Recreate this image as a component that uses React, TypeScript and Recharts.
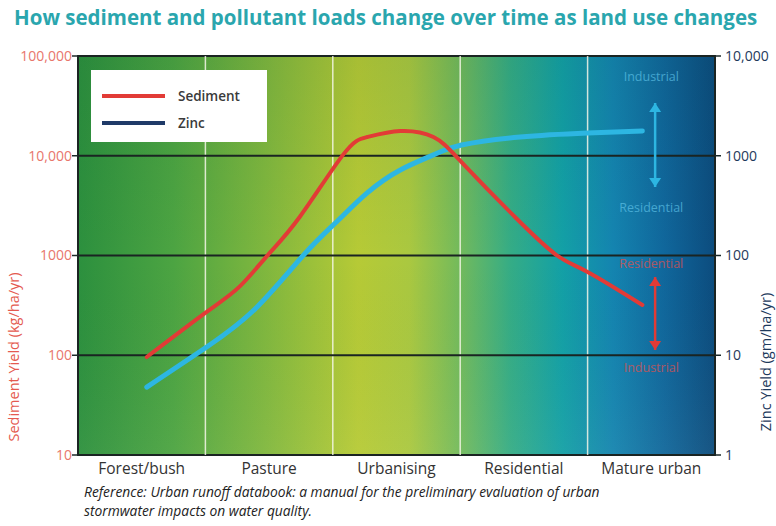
import { LineChart, Line, XAxis, YAxis, ReferenceArea, ReferenceLine, ReferenceDot, Legend } from 'recharts'

const categories = ['Forest/bush', 'Pasture', 'Urbanising', 'Residential', 'Mature urban']
const categoryTicks = [0.5, 1.5, 2.5, 3.5, 4.5]
const bandEdges = [1, 2, 3, 4]

// x is position along the land-use axis (0..5 = five bands)
const sedimentX = [0.54, 1.01, 1.27, 1.49, 1.74, 2.08, 2.27, 2.53, 2.79, 3.01, 3.43, 3.76, 4.0, 4.43]
const sedimentY = [96, 272, 490, 1010, 2430, 10200, 15400, 17700, 15400, 8650, 2430, 1000, 684, 319]

const zincX = [0.54, 1.01, 1.4, 1.77, 2.02, 2.27, 2.53, 2.79, 3.01, 3.47, 4.0, 4.43]
const zincY = [4.8, 12.1, 30, 101, 212, 424, 720, 1020, 1280, 1540, 1690, 1770]

const sedimentTicks = [10, 100, 1000, 10000, 100000]
const sedimentTickLabels = ['10', '100', '1000', '10,000', '100,000']
const zincTicks = [1, 10, 100, 1000, 10000]
const zincTickLabels = ['1', '10', '100', '1000', '10,000']
const gridLevels = [100, 1000, 10000]

const legendNames = ['Sediment', 'Zinc']
const legendColors = ['#e23b36', '#1f3a68']

// range annotations in the mature urban band
const rangeX = 4.53
const zincRange = [3380, 486]
const zincRangeLabels = [{ text: 'Industrial', y: 6300 }, { text: 'Residential', y: 306 }]
const sedimentRange = [608, 113]
const sedimentRangeLabels = [{ text: 'Residential', y: 841 }, { text: 'Industrial', y: 76 }]

const RED = '#e23b36'
const CYAN = '#2db6e2'
const FONT = '"Open Sans", sans-serif'

const sedimentData = sedimentX.map((x, i) => ({ x, sediment: sedimentY[i] }))
const zincData = zincX.map((x, i) => ({ x, zinc: zincY[i] }))

const arrowHead = (color: string, up: boolean) => (p: any) => {
  const { cx, cy } = p
  const d = up
    ? `M${cx},${cy} L${cx - 6},${cy + 9} L${cx + 6},${cy + 9} Z`
    : `M${cx},${cy} L${cx - 6},${cy - 9} L${cx + 6},${cy - 9} Z`
  return <path d={d} fill={color} />
}

const annotText = (text: string, color: string) => (p: any) => (
  <text x={p.cx} y={p.cy} textAnchor="middle" dominantBaseline="central"
    fill={color} fontSize={12.5} fontFamily={FONT} opacity={0.7}>{text}</text>
)

const sideTitle = (text: string, x: number, y: number, color: string) => ({
  content: () => (
    <text x={x} y={y} transform={`rotate(-90, ${x}, ${y})`} textAnchor="middle"
      dominantBaseline="central" fill={color} fontSize={14.5} fontFamily={FONT}>{text}</text>
  ),
})

function LegendBox() {
  return (
    <div style={{ background: '#fff', width: 176, height: 72, boxSizing: 'border-box', padding: '12px 0 0 11px', fontFamily: FONT }}>
      {legendNames.map((n, i) => (
        <div key={n} style={{ display: 'flex', alignItems: 'center', height: 27 }}>
          <span style={{ display: 'inline-block', width: 63, height: 4, background: legendColors[i] }} />
          <span style={{ marginLeft: 13, fontSize: 13.5, fontWeight: 600, color: '#3a3a3a' }}>{n}</span>
        </div>
      ))}
    </div>
  )
}

export default function App() {
  return (
    <div style={{ position: 'absolute', left: 0, top: 0, width: 776, height: 526, background: '#fff' }}>
      <div style={{ position: 'absolute', left: 14, top: 3, fontFamily: FONT, fontSize: 20.5, fontWeight: 700, color: '#2aa6ae', whiteSpace: 'nowrap' }}>
        How sediment and pollutant loads change over time as land use changes
      </div>
      <LineChart width={776} height={526} data={sedimentData}
        margin={{ top: 56, right: 11, bottom: 41, left: 18 }}>
        <defs>
          <linearGradient id="bgGrad" x1="0" y1="0" x2="1" y2="0">
            <stop offset="0" stopColor="#2c903e" />
            <stop offset="0.15" stopColor="#4ca442" />
            <stop offset="0.3" stopColor="#82b83e" />
            <stop offset="0.44" stopColor="#b6ca36" />
            <stop offset="0.52" stopColor="#aac840" />
            <stop offset="0.6" stopColor="#72ba5c" />
            <stop offset="0.68" stopColor="#34ac86" />
            <stop offset="0.76" stopColor="#13a0a6" />
            <stop offset="0.84" stopColor="#1484b0" />
            <stop offset="0.92" stopColor="#10679c" />
            <stop offset="1" stopColor="#0c4c7e" />
          </linearGradient>
          <linearGradient id="shadeGrad" x1="0" y1="0" x2="0" y2="1">
            <stop offset="0" stopColor="#003020" stopOpacity={0.08} />
            <stop offset="0.5" stopColor="#003020" stopOpacity={0} />
            <stop offset="1" stopColor="#ffffe0" stopOpacity={0.05} />
          </linearGradient>
        </defs>
        <XAxis type="number" dataKey="x" domain={[0, 5]} ticks={categoryTicks}
          tickFormatter={(v: number) => categories[Math.floor(v)]} axisLine={false} tickLine={false}
          height={30} tick={{ fill: '#333', fontSize: 15.5, fontFamily: FONT }} allowDataOverflow />
        <YAxis yAxisId="left" scale="log" domain={[10, 100000]} ticks={sedimentTicks} allowDataOverflow
          tickFormatter={(v: number) => sedimentTickLabels[sedimentTicks.indexOf(v)]}
          width={60} axisLine={false} tickLine={{ stroke: '#1d2a2a', strokeWidth: 1.5 }} tickSize={6} tickMargin={0}
          tick={{ fill: '#e8766c', fontSize: 14, fontFamily: FONT }}
          label={sideTitle('Sediment Yield (kg/ha/yr)', 13, 357, '#e45a50')} />
        <YAxis yAxisId="right" orientation="right" scale="log" domain={[1, 10000]} ticks={zincTicks} allowDataOverflow
          tickFormatter={(v: number) => zincTickLabels[zincTicks.indexOf(v)]}
          width={50} axisLine={false} tickLine={{ stroke: '#1d2a2a', strokeWidth: 1.5 }} tickSize={6} tickMargin={4}
          tick={{ fill: '#1e3a5c', fontSize: 14, fontFamily: FONT }}
          label={sideTitle('Zinc Yield (gm/ha/yr)', 765, 362, '#1e3a5c')} />

        <ReferenceArea yAxisId="left" x1={0} x2={5} y1={10} y2={100000} fill="url(#bgGrad)" fillOpacity={1} stroke="none" />
        <ReferenceArea yAxisId="left" x1={0} x2={5} y1={10} y2={100000} fill="url(#shadeGrad)" fillOpacity={1} stroke="none" />
        {bandEdges.map((x) => (
          <ReferenceLine key={'b' + x} yAxisId="left" x={x} stroke="#f4f6e8" strokeWidth={1.5} strokeOpacity={0.85} />
        ))}
        {gridLevels.map((y) => (
          <ReferenceLine key={'g' + y} yAxisId="left" y={y} stroke="#1a2422" strokeWidth={2} />
        ))}
        <ReferenceArea yAxisId="left" x1={0} x2={5} y1={10} y2={100000} fill="none" stroke="#1a2422" strokeWidth={2} />

        <ReferenceLine yAxisId="right" segment={[{ x: rangeX, y: zincRange[0] }, { x: rangeX, y: zincRange[1] }]} stroke={CYAN} strokeWidth={2.5} />
        <ReferenceDot yAxisId="right" x={rangeX} y={zincRange[0]} r={0} shape={arrowHead(CYAN, true)} />
        <ReferenceDot yAxisId="right" x={rangeX} y={zincRange[1]} r={0} shape={arrowHead(CYAN, false)} />
        {zincRangeLabels.map((l) => (
          <ReferenceDot key={'z' + l.text} yAxisId="right" x={4.5} y={l.y} r={0} shape={annotText(l.text, '#5cc0e6')} />
        ))}
        <ReferenceLine yAxisId="left" segment={[{ x: rangeX, y: sedimentRange[0] }, { x: rangeX, y: sedimentRange[1] }]} stroke={RED} strokeWidth={2.5} />
        <ReferenceDot yAxisId="left" x={rangeX} y={sedimentRange[0]} r={0} shape={arrowHead(RED, true)} />
        <ReferenceDot yAxisId="left" x={rangeX} y={sedimentRange[1]} r={0} shape={arrowHead(RED, false)} />
        {sedimentRangeLabels.map((l) => (
          <ReferenceDot key={'s' + l.text} yAxisId="left" x={4.5} y={l.y} r={0} shape={annotText(l.text, '#e8504a')} />
        ))}

        <Line yAxisId="right" data={zincData} dataKey="zinc" type="natural" stroke={CYAN} strokeWidth={5}
          dot={false} isAnimationActive={false} strokeLinecap="round" />
        <Line yAxisId="left" data={sedimentData} dataKey="sediment" type="natural" stroke={RED} strokeWidth={4}
          dot={false} isAnimationActive={false} strokeLinecap="round" />

        <Legend layout="horizontal" verticalAlign="middle" align="center" content={() => <LegendBox />}
          wrapperStyle={{ left: 91, top: 70, width: 176, height: 72 }} />
      </LineChart>
      <div style={{ position: 'absolute', left: 84, top: 482, fontFamily: FONT, fontSize: 13.8, fontStyle: 'italic', lineHeight: '19px', color: '#222', whiteSpace: 'nowrap' }}>
        Reference: Urban runoff databook: a manual for the preliminary evaluation of urban<br />
        stormwater impacts on water quality.
      </div>
    </div>
  )
}
